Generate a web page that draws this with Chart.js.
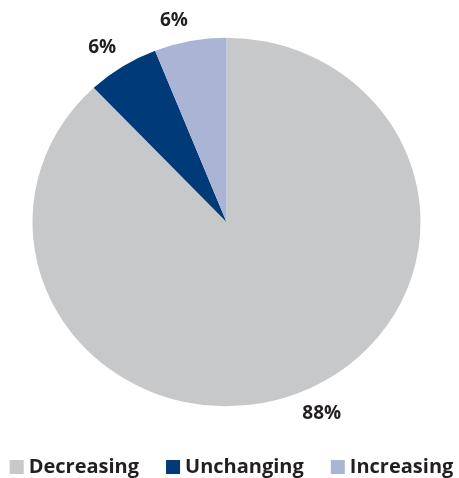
<!DOCTYPE html>
<html lang="en">
  <head>
    <meta charset="UTF-8">
    <title>Trend</title>
    <script src="https://cdn.jsdelivr.net/npm/chart.js"></script>
    <style>
      html, body { margin: 0; padding: 0; background: #fff; }
      #box { width: 459px; height: 478px; }
    </style>
  </head>
  <body>
    <div id="box"><canvas id="kaka"></canvas></div>
    <script>
        // Gögn
        const flokkar = ['Decreasing', 'Unchanging', 'Increasing'];
        const hlutfall = [88, 6, 6];
        const litir = ['#c7c8ca', '#003a78', '#aab4d4'];

        const letur = '"Open Sans", sans-serif';
        const textalitur = '#231f20';
        const flatt = 0.95; // kakan er aðeins flatari en hringur

        // Þrýsta kökunni saman lóðrétt um miðjuna
        const fletja = {
            id: 'fletja',
            beforeDatasetsDraw(chart) {
                const arc = chart.getDatasetMeta(0).data[0];
                const cy = arc.y;
                chart.ctx.save();
                chart.ctx.translate(0, cy);
                chart.ctx.scale(1, flatt);
                chart.ctx.translate(0, -cy);
            },
            afterDatasetsDraw(chart) {
                chart.ctx.restore();
            }
        };

        // Prósentur utan við hverja sneið
        const merkingar = {
            id: 'merkingar',
            afterDatasetsDraw(chart) {
                const ctx = chart.ctx;
                const meta = chart.getDatasetMeta(0);
                ctx.save();
                ctx.font = 'bold 19px ' + letur;
                ctx.fillStyle = textalitur;
                ctx.textAlign = 'center';
                ctx.textBaseline = 'middle';
                meta.data.forEach((arc, i) => {
                    const p = arc.getProps(['x', 'y', 'startAngle', 'endAngle', 'outerRadius'], true);
                    const mid = (p.startAngle + p.endAngle) / 2;
                    const dx = Math.cos(mid), dy = Math.sin(mid);
                    const txt = hlutfall[i] + '%';
                    const w = ctx.measureText(txt).width;
                    const x = p.x + dx * (p.outerRadius + 12) + Math.sign(dx) * w / 2;
                    const y = p.y + dy * (p.outerRadius * flatt + 12) + Math.sign(dy) * 9;
                    ctx.fillText(txt, x, y);
                });
                ctx.restore();
            }
        };

        // Skýringar neðst
        const skyringar = {
            id: 'skyringar',
            afterDraw(chart) {
                const ctx = chart.ctx;
                const kassi = 14, bil = 5, milli = 27;
                ctx.save();
                ctx.font = 'bold 20px ' + letur;
                const breiddir = flokkar.map(f => ctx.measureText(f).width);
                let heild = 0;
                breiddir.forEach((b, i) => { heild += kassi + bil + b + (i < breiddir.length - 1 ? milli : 0); });
                let x = (chart.width - heild) / 2 + 2;
                const grunnlina = 473;
                ctx.textBaseline = 'alphabetic';
                flokkar.forEach((f, i) => {
                    ctx.fillStyle = litir[i];
                    ctx.fillRect(x, 460, kassi, kassi);
                    x += kassi + bil;
                    ctx.fillStyle = textalitur;
                    ctx.fillText(f, x, grunnlina);
                    x += breiddir[i] + milli;
                });
                ctx.restore();
            }
        };

        new Chart(document.getElementById('kaka'), {
            type: 'pie',
            data: {
                labels: flokkar,
                datasets: [{
                    data: hlutfall,
                    backgroundColor: litir,
                    borderWidth: 0,
                    hoverOffset: 0
                }]
            },
            options: {
                responsive: true,
                maintainAspectRatio: false,
                animation: false,
                events: [],
                layout: { padding: { top: 28, bottom: 62, left: 0, right: 6 } },
                plugins: {
                    legend: { display: false },
                    tooltip: { enabled: false }
                }
            },
            plugins: [fletja, merkingar, skyringar]
        });
    </script>
  </body>
</html>
